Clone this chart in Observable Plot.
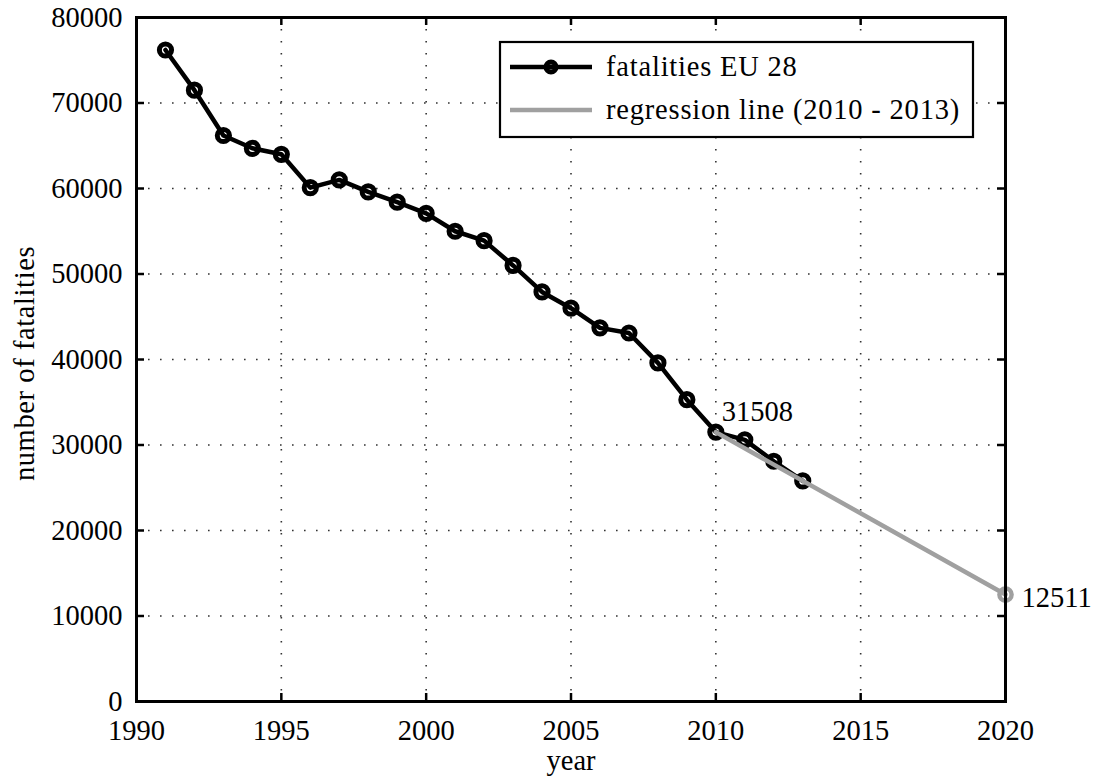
<!DOCTYPE html>
<html>
<head>
<meta charset="utf-8">
<script src="https://cdn.jsdelivr.net/npm/d3@7"></script>
<script src="https://cdn.jsdelivr.net/npm/@observablehq/plot@0.6"></script>
<style>
  html, body { margin: 0; padding: 0; background: #fff; }
  #chart svg { display: block; }
</style>
</head>
<body>
<div id="chart"></div>
<script>
// Road fatalities in the EU 28, 1991–2013
const years = [1991, 1992, 1993, 1994, 1995, 1996, 1997, 1998, 1999, 2000,
               2001, 2002, 2003, 2004, 2005, 2006, 2007, 2008, 2009, 2010,
               2011, 2012, 2013];
const fatalities = [76200, 71500, 66200, 64700, 64000, 60100, 61000, 59600, 58400, 57100,
                    55000, 53900, 51000, 47900, 46000, 43700, 43100, 39600, 35300, 31508,
                    30600, 28100, 25800];

// Linear trend fitted on 2010–2013, extended to 2020
const regressionYears = [2010, 2020];
const regressionValues = [31508, 12511];

const xTicks = [1990, 1995, 2000, 2005, 2010, 2015, 2020];
const yTicks = [0, 10000, 20000, 30000, 40000, 50000, 60000, 70000, 80000];

const seriesLabel = "fatalities EU 28";
const regressionLabel = "regression line (2010 - 2013)";
const xLabel = "year";
const yLabel = "number of fatalities";

const series = years.map((year, i) => ({year, value: fatalities[i]}));
const regression = regressionYears.map((year, i) => ({year, value: regressionValues[i]}));
const annotated = [series[years.indexOf(2010)]];
const projected = [regression[regression.length - 1]];

const W = 1093, H = 776;
const mL = 136, mR = 88, mT = 17, mB = 75;
const plotW = W - mL - mR, plotH = H - mT - mB;
const tickLen = 8;
const grey = "#a0a0a0";
const font = "'Liberation Serif', 'DejaVu Serif', serif";
const fontSize = 28.5;
const gridStyle = {stroke: "#333", strokeWidth: 1.6, strokeDasharray: "1.6 10.4"};
const tickStyle = {stroke: "black", strokeWidth: 2.5};

const svg = Plot.plot({
  width: W,
  height: H,
  marginLeft: mL,
  marginRight: mR,
  marginTop: mT,
  marginBottom: mB,
  style: {fontFamily: font, fontSize: `${fontSize}px`, color: "black", background: "#fff"},
  x: {domain: [1990, 2020], ticks: xTicks, tickFormat: d => String(d), tickSize: 0, tickPadding: 18, label: null},
  y: {domain: [0, 80000], ticks: yTicks, tickFormat: d => String(d), tickSize: 0, tickPadding: 14, label: null},
  marks: [
    // dotted grid
    Plot.ruleX(xTicks.slice(1, -1), gridStyle),
    Plot.ruleY(yTicks.slice(1, -1), gridStyle),
    // inward ticks on all four sides
    Plot.tickY(yTicks, {...tickStyle, insetRight: plotW - tickLen}),
    Plot.tickY(yTicks, {...tickStyle, insetLeft: plotW - tickLen}),
    Plot.tickX(xTicks, {...tickStyle, insetTop: plotH - tickLen}),
    Plot.tickX(xTicks, {...tickStyle, insetBottom: plotH - tickLen}),
    // observed series
    Plot.line(series, {x: "year", y: "value", stroke: "black", strokeWidth: 4.5}),
    Plot.dot(series, {x: "year", y: "value", r: 6.1, stroke: "black", strokeWidth: 5, fill: "none"}),
    // regression line and its 2020 projection
    Plot.line(regression, {x: "year", y: "value", stroke: grey, strokeWidth: 4.5}),
    Plot.dot(projected, {x: "year", y: "value", r: 6.1, stroke: grey, strokeWidth: 4.5, fill: "none"}),
    // value labels
    Plot.text(annotated, {x: "year", y: "value", text: d => String(d.value), textAnchor: "start", lineAnchor: "middle", dx: 6, dy: -20, fill: "black"}),
    Plot.text(projected, {x: "year", y: "value", text: d => String(d.value), textAnchor: "start", lineAnchor: "middle", dx: 16, dy: 3, fill: "black"}),
    // axis titles
    Plot.text([xLabel], {frameAnchor: "bottom", textAnchor: "middle", lineAnchor: "middle", dy: 59, fill: "black"}),
    Plot.text([yLabel], {frameAnchor: "left", textAnchor: "middle", lineAnchor: "middle", rotate: -90, dx: -112, dy: 4, fill: "black"}),
    Plot.frame({stroke: "black", strokeWidth: 3})
  ]
});

// slightly open up the lowercase y title
d3.select(svg).selectAll("text")
  .filter(function () { return this.textContent === yLabel; })
  .attr("letter-spacing", 0.6);

// Legend box in the upper right of the plot area
const lg = d3.select(svg).append("g")
  .attr("font-family", font)
  .attr("font-size", fontSize)
  .attr("fill", "black");
const box = {x: 500, y: 42, w: 473, h: 95};
lg.append("rect")
  .attr("x", box.x).attr("y", box.y).attr("width", box.w).attr("height", box.h)
  .attr("fill", "#fff").attr("stroke", "black").attr("stroke-width", 2.2);
const rows = [
  {label: seriesLabel, color: "black", marker: true, y: box.y + 25},
  {label: regressionLabel, color: grey, marker: false, y: box.y + 68}
];
rows.forEach(row => {
  lg.append("line")
    .attr("x1", box.x + 10).attr("x2", box.x + 92)
    .attr("y1", row.y).attr("y2", row.y)
    .attr("stroke", row.color).attr("stroke-width", 4.5);
  if (row.marker) {
    lg.append("circle")
      .attr("cx", box.x + 51).attr("cy", row.y).attr("r", 5)
      .attr("fill", "none").attr("stroke", row.color).attr("stroke-width", 5);
  }
  lg.append("text")
    .attr("x", box.x + 106).attr("y", row.y)
    .attr("dy", "0.3em")
    .attr("text-anchor", "start")
    .attr("letter-spacing", 0.8)
    .text(row.label);
});

document.getElementById("chart").appendChild(svg);
</script>
</body>
</html>
